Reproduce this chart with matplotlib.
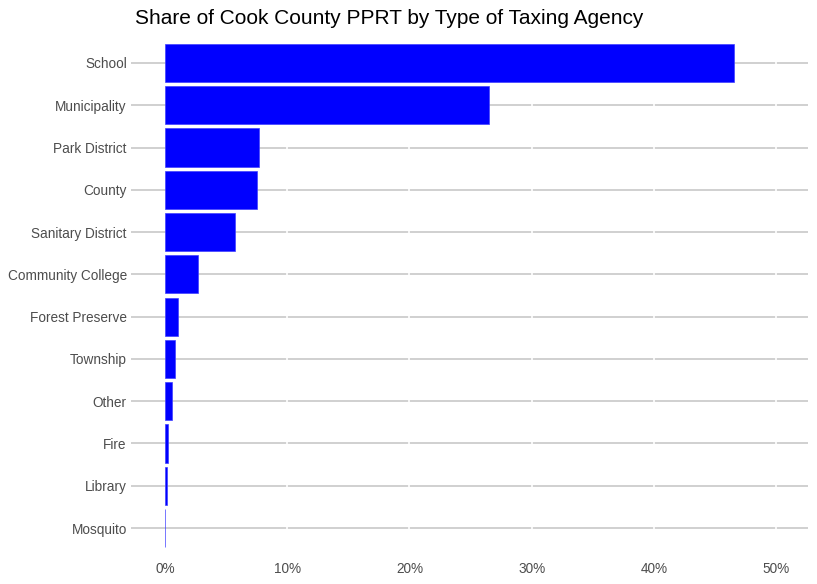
import matplotlib
matplotlib.use("Agg")
import matplotlib.pyplot as plt
from matplotlib.ticker import FuncFormatter

categories = ["School", "Municipality", "Park District", "County", "Sanitary District",
              "Community College", "Forest Preserve", "Township", "Other", "Fire",
              "Library", "Mosquito"]
shares = [46.57, 26.48, 7.69, 7.54, 5.74, 2.71, 1.10, 0.82, 0.61, 0.26, 0.15, 0.02]
x_ticks = [0, 10, 20, 30, 40, 50]

W, H = 817, 584
fig = plt.figure(figsize=(W / 100, H / 100), dpi=100)
plt.rcParams['font.family'] = ['Liberation Sans', 'DejaVu Sans']

left, right, top, bottom = 131, 808, 37.6, 553.4
ax = fig.add_axes([left / W, 1 - bottom / H, (right - left) / W, (bottom - top) / H])

n = len(categories)
ypos = list(range(n - 1, -1, -1))

# grid
for y in ypos:
    ax.axhline(y, color="#c4c4c4", lw=1.1, zorder=1)
for xv in x_ticks[1:]:
    ax.axvline(xv, color="white", lw=1.2, zorder=2)

ax.barh(ypos, shares, height=0.9, color="#0000ff", edgecolor="#4040ff", linewidth=0.5, zorder=3)

ax.set_xlim(-2.78, 52.6)
ax.set_ylim(-0.6, n - 1 + 0.6)
ax.set_yticks(ypos)
ax.set_yticklabels(categories)
ax.set_xticks(x_ticks)
ax.xaxis.set_major_formatter(FuncFormatter(lambda v, p: f"{v:.0f}%"))
ax.tick_params(axis="both", length=0, labelsize=9.8, labelcolor="#4d4d4d")
ax.tick_params(axis="y", pad=3)
ax.tick_params(axis="x", pad=6.5)
for s in ax.spines.values():
    s.set_visible(False)

fig.text(135 / W, 1 - 18.5 / H, "Share of Cook County PPRT by Type of Taxing Agency",
         fontsize=15, color="black", ha="left", va="center")

fig.savefig("out.png", dpi=100, facecolor="white")
